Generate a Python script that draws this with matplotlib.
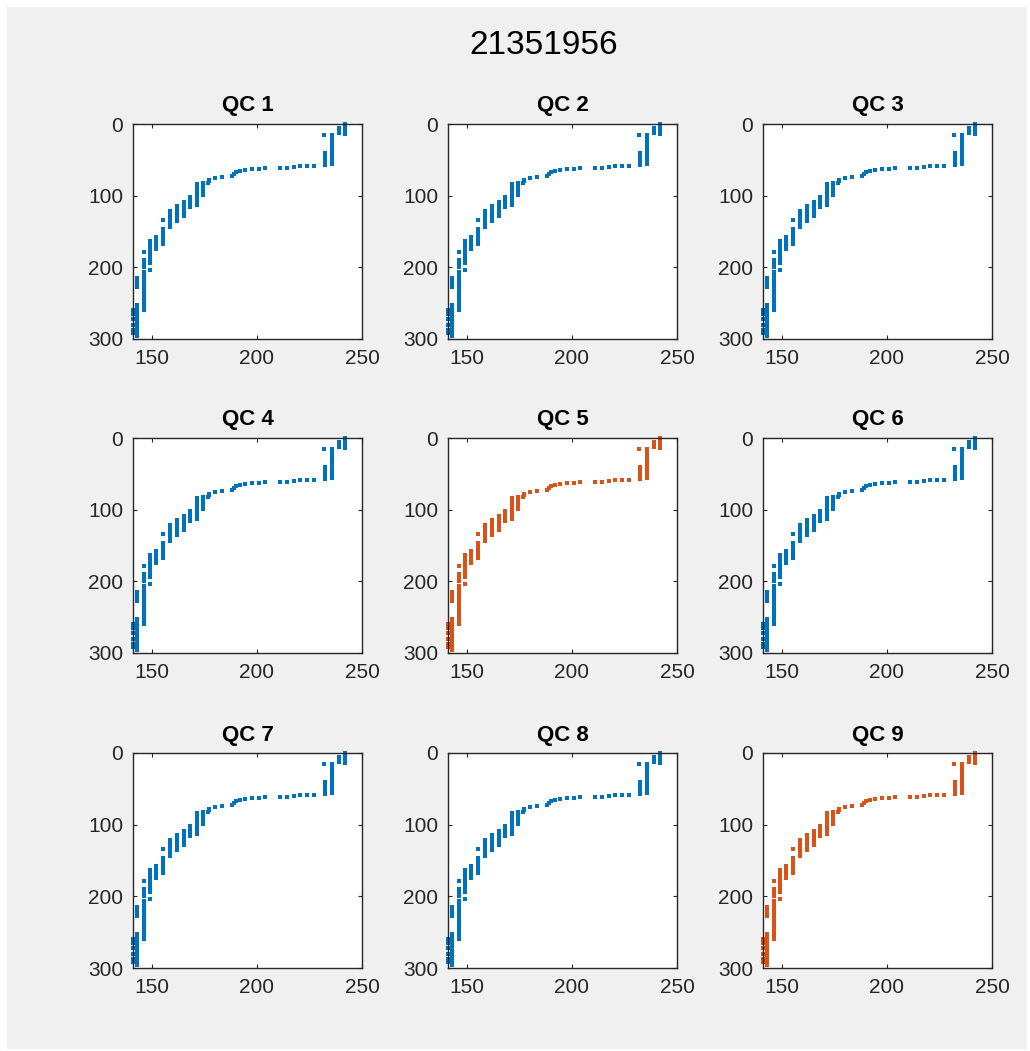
import matplotlib
matplotlib.use("Agg")
import matplotlib.pyplot as plt
from matplotlib.patches import Rectangle

plt.rcParams['font.family'] = ['Liberation Sans', 'DejaVu Sans']

fig_title = "21351956"
panel_titles = ["QC 1", "QC 2", "QC 3", "QC 4", "QC 5", "QC 6", "QC 7", "QC 8", "QC 9"]
flagged_panels = ["QC 5", "QC 9"]

# profile samples: (depth, value)
depth = [0, 2, 4, 5, 6, 8, 9, 10, 12, 13, 14,
         15, 16, 18, 20, 22, 24, 26, 28, 30, 32, 34, 36, 38,
         40, 41, 42, 44, 45, 46, 48, 49, 50, 52, 53, 54, 56,
         57, 58, 58, 59, 60, 61, 61, 62, 63, 63, 64, 65, 67, 70, 72,
         74, 75, 78, 80,
         82, 83, 84, 86, 87, 89, 90, 92, 93, 95, 96, 98, 99, 100,
         102, 103, 105, 106, 108, 109, 110, 111, 112, 113, 114, 115, 116, 117, 118,
         120, 121, 122, 123, 124, 125, 126, 127, 128, 129, 130, 132, 133, 134, 135, 136,
         138, 140, 142, 144, 146, 148, 150, 152, 154, 156, 158, 159, 160, 161, 162, 163,
         164, 165, 166, 167, 168, 169, 170, 171, 172, 173, 174, 175, 177, 178, 179, 181,
         183, 185, 187, 189, 190, 192, 194, 196, 198, 200, 204, 206, 208, 210, 212, 214,
         215, 216, 217, 218, 219, 220, 221, 222, 223, 224, 225, 226, 227, 228,
         230, 232, 234, 236, 238, 240, 242, 244, 246, 248, 250,
         252, 253, 255, 256, 258, 259, 260, 261, 263, 265, 266, 268, 270, 272, 273,
         275, 277, 279, 281, 283, 284, 285, 287, 289, 291, 292, 294, 296]
value = [242.1, 242.1, 242.1, 238.9, 242.1, 242.1, 238.9, 242.1, 242.1, 238.9, 242.1,
         231.8, 235.7, 235.7, 235.7, 235.7, 235.7, 235.7, 235.7, 235.7, 235.7, 235.7, 235.7, 235.7,
         232.5, 235.7, 235.7, 232.5, 235.7, 232.5, 235.7, 232.5, 235.7, 232.5, 235.7, 232.5, 235.7,
         232.5, 227.0, 223.8, 220.6, 217.5, 214.3, 211.1, 204.0, 200.8, 197.7, 194.5, 192.0, 190.0, 189.2, 188.0,
         183.4, 180.2, 177.4, 177.4,
         176.8, 174.3, 171.5, 174.3, 171.5, 174.3, 171.5, 174.3, 171.5, 174.3, 171.5, 174.3, 174.3, 171.5,
         168.3, 171.5, 168.3, 171.5, 168.3, 165.1, 171.5, 165.1, 168.3, 171.5, 165.1, 161.9, 168.3, 165.1, 161.9,
         165.1, 161.9, 158.8, 165.1, 161.9, 158.8, 161.9, 158.8, 165.1, 161.9, 158.8, 161.9, 158.8, 155.3, 161.9, 158.8,
         158.8, 158.8, 158.8, 158.8, 155.3, 155.3, 155.3, 155.3, 155.3, 155.3, 152.1, 155.3, 152.1, 155.3, 152.1, 149.3,
         155.3, 152.1, 149.3, 155.3, 152.1, 149.3, 152.1, 149.3, 152.1, 149.3, 152.1, 149.3, 149.3, 146.0, 149.3, 149.3,
         149.3, 149.3, 149.3, 149.3, 146.0, 146.0, 149.3, 146.0, 146.0, 146.0, 149.3, 146.0, 146.0, 146.0, 146.0, 146.0,
         142.8, 146.0, 142.8, 146.0, 142.8, 146.0, 142.8, 146.0, 142.8, 146.0, 142.8, 146.0, 142.8, 146.0,
         146.0, 146.0, 146.0, 146.0, 146.0, 146.0, 146.0, 146.0, 146.0, 146.0, 146.0,
         142.8, 146.0, 142.8, 146.0, 142.8, 146.0, 141.0, 142.8, 142.8, 141.0, 142.8, 142.8, 142.8, 141.0, 142.8,
         142.8, 142.8, 142.8, 141.0, 142.8, 142.8, 142.8, 141.0, 142.8, 142.8, 141.0, 142.8, 142.8]

x_ticks = [150, 200, 250]
y_ticks = [0, 100, 200, 300]
x_limits = [141, 250]
y_limits = [0, 300]

BLUE = "#0072BD"
ORANGE = "#D95319"
AX_COLOR = "#262626"

W, H = 1030, 1051
fig = plt.figure(figsize=(W / 100, H / 100), dpi=100, facecolor="white")
bg = Rectangle((7 / W, 2 / H), 1020 / W, 1042 / H, transform=fig.transFigure,
               facecolor="#F0F0F0", edgecolor="none", zorder=-10)
fig.add_artist(bg)

col_left = [133, 448, 763]
row_top = [124, 438, 753]
ax_w, ax_h = 229, 215

for i, name in enumerate(panel_titles):
    r, c = divmod(i, 3)
    left = col_left[c] / W
    bottom = 1 - (row_top[r] + ax_h) / H
    ax = fig.add_axes([left, bottom, ax_w / W, ax_h / H])
    ax.set_zorder(1)
    color = ORANGE if name in flagged_panels else BLUE
    ax.plot(value, depth, linestyle="none", marker="s", markersize=3.1,
            markeredgewidth=0, color=color, clip_on=False)
    ax.set_xlim(x_limits)
    ax.set_ylim(y_limits)
    ax.invert_yaxis()
    ax.set_xticks(x_ticks)
    ax.set_yticks(y_ticks)
    ax.tick_params(direction="in", length=3, width=0.8, colors=AX_COLOR,
                   labelsize=15, top=True, right=True, pad=7)
    for sp in ax.spines.values():
        sp.set_color(AX_COLOR)
        sp.set_linewidth(1.0)
    ax.set_title(name, fontsize=16, fontweight="bold", color="black", pad=9)

fig.text(544 / W, 1 - 46 / H, fig_title, ha="center", va="center", fontsize=24, color="black")

fig.savefig("out.png", dpi=100, facecolor=fig.get_facecolor())
